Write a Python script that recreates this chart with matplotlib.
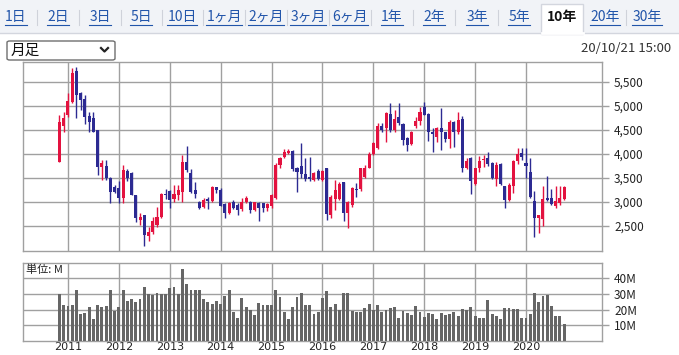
import numpy as np
import pandas as pd
import matplotlib.pyplot as plt
from matplotlib.patches import Rectangle, FancyBboxPatch
from matplotlib.lines import Line2D

plt.rcParams['font.family'] = ['Noto Sans CJK JP', 'DejaVu Sans']

# monthly candles, 2010-11 .. 2020-10
months = pd.date_range('2010-11-01', periods=120, freq='MS')

opens = [3840, 4583, 4812, 5090, 5729, 5264, 5146, 4792, 4757, 4500,
         3736, 3743, 3493, 3320, 3285, 3090, 3653, 3597, 3146, 2625,
         2736, 2298, 2382, 2521, 2694, 3167, 3229, 3056, 3146, 3215,
         3840, 3611, 3250, 2993, 2889, 3063, 3028, 3306, 3250, 2951,
         2764, 3000, 2938, 2854, 3007, 3000, 2833, 2979, 2972, 2868,
         2924, 3076, 3771, 3944, 4014, 4062, 3701, 3750, 3590, 3521,
         3458, 3653, 3458, 3715, 2729, 3063, 3063, 3410, 2778, 2938,
         3271, 3264, 3528, 3715, 3993, 4132, 4583, 4535, 4826, 4500,
         4778, 4618, 4340, 4201, 4590, 4688, 4986, 4826, 4451, 4361,
         4535, 4451, 4312, 4660, 4451, 4729, 3715, 3910, 3368, 3701,
         3868, 3924, 3806, 3472, 3799, 3340, 3049, 3340, 3847, 4021,
         3813, 3625, 3028, 2667, 2646, 3083, 3083, 2910, 2979, 3063]

closes = [4674, 4757, 5104, 5694, 5229, 5125, 4778, 4674, 4465, 3736,
          3806, 3500, 3215, 3215, 3090, 3667, 3500, 3153, 2660, 2695,
          2320, 2382, 2604, 2694, 3160, 3146, 3042, 3160, 3250, 3840,
          3667, 3215, 3160, 2882, 3049, 3028, 3320, 3250, 2924, 2764,
          2986, 2882, 2833, 3007, 3090, 2833, 2993, 2868, 2868, 2951,
          3146, 3771, 3924, 4049, 4069, 3681, 3632, 3590, 3486, 3486,
          3597, 3486, 3646, 2743, 3111, 3250, 3375, 2778, 3007, 3299,
          3250, 3701, 3715, 3993, 4222, 4590, 4500, 4847, 4500, 4729,
          4639, 4292, 4187, 4451, 4688, 4882, 4812, 4465, 4410, 4549,
          4451, 4312, 4660, 4451, 4708, 3701, 3854, 3438, 3701, 3854,
          3896, 3785, 3493, 3771, 3382, 3049, 3361, 3847, 4007, 3931,
          3743, 3104, 2667, 2736, 3063, 3049, 2965, 3014, 3083, 3306]

highs = [4812, 4882, 5264, 5785, 5819, 5299, 5229, 4882, 4882, 4500,
         3875, 3882, 3528, 3360, 3430, 3771, 3690, 3632, 3150, 2764,
         2736, 2472, 2694, 2903, 3194, 3264, 3250, 3354, 3354, 3979,
         4167, 3688, 3424, 3021, 3076, 3111, 3340, 3320, 3285, 2972,
         3000, 3042, 2972, 3076, 3125, 3021, 3007, 3007, 2986, 2972,
         3160, 3806, 3944, 4104, 4104, 4083, 3736, 4222, 3910, 3937,
         3632, 3688, 3667, 3715, 3146, 3458, 3424, 3424, 3021, 3320,
         3389, 3715, 3771, 4049, 4257, 4639, 4653, 4868, 5056, 4917,
         5056, 4639, 4361, 4479, 4778, 4986, 5090, 4847, 4535, 4569,
         4951, 4465, 4708, 4688, 4882, 4799, 3910, 3944, 3715, 3965,
         3979, 4035, 3840, 3840, 3813, 3340, 3396, 3882, 4125, 4125,
         4125, 3917, 3222, 2736, 3340, 3535, 3271, 3326, 3326, 3326]

lows = [3840, 4465, 4778, 5056, 4743, 4917, 4620, 4465, 4451, 3563,
        3458, 3465, 2972, 3180, 2980, 2972, 3438, 3153, 2590, 2521,
        2076, 2180, 2326, 2486, 2660, 3056, 2868, 3007, 3042, 3007,
        3632, 3180, 3076, 2861, 2875, 2861, 3007, 3180, 2924, 2674,
        2743, 2861, 2729, 2813, 2986, 2764, 2813, 2604, 2800, 2813,
        2868, 3063, 3715, 3917, 3993, 3646, 3201, 3500, 3431, 3438,
        3431, 3465, 3431, 2625, 2660, 2833, 3042, 2597, 2458, 2903,
        3111, 3222, 3493, 3701, 3979, 4104, 4465, 4257, 4465, 4465,
        4604, 4187, 4062, 4187, 4542, 4611, 4812, 4271, 4049, 4257,
        4076, 4257, 4125, 4153, 4410, 3632, 3688, 3160, 3354, 3632,
        3722, 3757, 3479, 3333, 3361, 2875, 3014, 3188, 3799, 3882,
        3500, 3083, 2271, 2354, 2507, 3014, 2944, 2875, 2944, 3042]

# volume in millions
volumes = [30.1, 22.7, 22.3, 22.7, 32.2, 17.0, 17.7, 21.5, 13.9, 22.7,
           21.5, 22.1, 32.8, 18.9, 21.5, 32.8, 25.3, 26.5, 24.6, 26.5,
           34.1, 29.7, 29.0, 30.9, 29.7, 29.7, 33.5, 34.1, 29.7, 46.1,
           36.6, 32.8, 32.2, 32.8, 26.5, 24.6, 23.4, 25.3, 23.4, 28.4,
           32.2, 18.3, 14.5, 27.2, 21.5, 19.6, 16.4, 24.0, 22.7, 22.7,
           22.7, 32.8, 27.8, 18.3, 13.9, 21.5, 27.8, 30.9, 22.7, 22.7,
           17.0, 18.3, 27.2, 31.6, 21.5, 23.4, 19.6, 30.3, 30.9, 18.9,
           18.3, 18.3, 20.8, 23.4, 19.6, 22.7, 18.3, 19.6, 20.8, 21.5,
           14.5, 18.9, 17.7, 16.4, 22.1, 18.3, 15.2, 17.7, 17.0, 13.9,
           17.7, 16.4, 17.0, 18.3, 15.8, 20.2, 19.6, 21.5, 15.8, 14.5,
           14.5, 25.9, 17.0, 15.8, 13.9, 20.8, 20.8, 20.2, 20.2, 14.5,
           14.5, 17.0, 30.3, 24.6, 28.4, 29.0, 22.1, 15.8, 15.8, 10.7]

price_ticks = [2500, 3000, 3500, 4000, 4500, 5000, 5500]
vol_ticks = [10, 20, 30, 40]
tabs = ['1日', '2日', '3日', '5日', '10日', '1ヶ月', '2ヶ月', '3ヶ月', '6ヶ月',
        '1年', '2年', '3年', '5年', '10年', '20年', '30年']
tab_x = [16, 58, 100, 141, 182, 224, 266, 308, 350, 392, 434, 477, 519, 562, 605, 647]
selected = '10年'

W, H = 679, 355
RED = '#e3123f'
BLUE = '#2c2a92'
GRID = '#a0a0a0'

fig = plt.figure(figsize=(W / 100, H / 100), dpi=100)
fig.patch.set_facecolor('white')


def fx(px):
    return px / W


def fy(py):
    return 1 - py / H


# ---- tab bar
fig.patches.append(Rectangle((0, fy(33)), 1, 33 / H, transform=fig.transFigure,
                             facecolor='#f1f3f7', edgecolor='none', zorder=0))
fig.lines.append(Line2D([0, 1], [fy(33), fy(33)], transform=fig.transFigure,
                        color='#d3d6de', lw=1))
fig.patches.append(Rectangle((fx(541), fy(34)), fx(42), 30 / H, transform=fig.transFigure,
                             facecolor='white', edgecolor='#d3d6de', lw=1, zorder=2))
fig.lines.append(Line2D([fx(541.5), fx(582.5)], [fy(33), fy(33)], transform=fig.transFigure,
                        color='white', lw=2, zorder=3))

tab_texts = []
for lab, x in zip(tabs, tab_x):
    if lab == selected:
        fig.text(fx(x), fy(17), lab, ha='center', va='center', fontsize=10,
                 fontweight='bold', color='#111111', zorder=4)
    else:
        t = fig.text(fx(x), fy(17), lab, ha='center', va='center', fontsize=10,
                     color='#2255aa', zorder=4)
        tab_texts.append(t)
for a, b in zip(tab_x[:-1], tab_x[1:]):
    m = (a + b) / 2
    if abs(m - 541) < 5 or abs(m - 583) < 5:
        continue
    fig.lines.append(Line2D([fx(m), fx(m)], [fy(10), fy(25)], transform=fig.transFigure,
                            color='#cfd2da', lw=0.8))

# ---- dropdown and timestamp
fig.patches.append(FancyBboxPatch((fx(7), fy(60)), fx(108), 19 / H, transform=fig.transFigure,
                                  boxstyle='round,pad=0,rounding_size=0.004',
                                  facecolor='white', edgecolor='#6f6f6f', lw=1, zorder=3))
fig.text(fx(11), fy(50.5), '月足', ha='left', va='center', fontsize=10.5, color='#111111', zorder=4)
fig.lines.append(Line2D([fx(101), fx(104.5), fx(108)], [fy(48), fy(51.5), fy(48)],
                        transform=fig.transFigure, color='#222222', lw=1.6, zorder=4))
fig.text(fx(671), fy(49), '20/10/21 15:00', ha='right', va='center', fontsize=9.5,
         color='#333333')

# ---- axes
x = np.arange(len(months))
year_idx = [i for i, d in enumerate(months) if d.month == 1]
year_lab = [str(months[i].year) for i in year_idx]
left, right = 23, 601.5

ax_p = fig.add_axes([fx(left), fy(251), fx(right - left), (251 - 62) / H])
ax_v = fig.add_axes([fx(left), fy(341), fx(right - left), (341 - 263) / H])

o = np.array(opens)
c = np.array(closes)
up = c >= o
body_lo = np.minimum(o, c)
body_h = np.maximum(np.abs(c - o), 8)
cols = np.where(up, RED, BLUE)

ax_p.vlines(x, lows, highs, colors=cols, lw=1, zorder=3)
ax_p.bar(x, body_h, bottom=body_lo, width=0.72, color=cols, linewidth=0, zorder=4)
ax_p.set_ylim(1979, 5917)
ax_p.set_yticks(price_ticks)
ax_p.set_yticklabels([f'{v:,}' for v in price_ticks])

ax_v.bar(x, volumes, width=0.68, color='#666666', linewidth=0, zorder=3)
ax_v.set_ylim(0, 49.7)
ax_v.set_yticks(vol_ticks)
ax_v.set_yticklabels([f'{v}M' for v in vol_ticks])
ax_v.text(0.006, 0.91, '単位: M', transform=ax_v.transAxes, ha='left', va='center',
          fontsize=8, color='#222222')

for ax in (ax_p, ax_v):
    ax.set_xlim(-8.6, 127.8)
    ax.set_xticks(year_idx)
    ax.yaxis.tick_right()
    ax.tick_params(axis='y', length=5, color=GRID, width=1, labelsize=8.5,
                   labelcolor='#222222', pad=4)
    ax.tick_params(axis='x', length=0, labelcolor='#222222', pad=1)
    ax.grid(True, color=GRID, lw=1, zorder=0)
    ax.set_axisbelow(True)
    for s in ax.spines.values():
        s.set_color(GRID)
        s.set_linewidth(1)
ax_p.set_xticklabels([])
ax_v.set_xticklabels(year_lab, fontsize=8, family='DejaVu Sans')

# underline tab links
fig.canvas.draw()
r = fig.canvas.get_renderer()
for t in tab_texts:
    bb = t.get_window_extent(r)
    fig.lines.append(Line2D([fx(bb.x0), fx(bb.x1)], [fy(25), fy(25)],
                            transform=fig.transFigure, color='#2255aa', lw=0.8))

fig.savefig('out.png', dpi=100)
